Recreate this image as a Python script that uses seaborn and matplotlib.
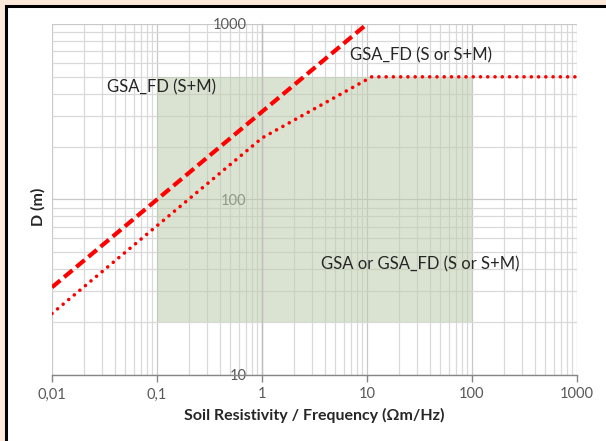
import matplotlib
matplotlib.use("Agg")
import matplotlib.pyplot as plt
import matplotlib.patches as mpatches
from matplotlib.lines import Line2D
from matplotlib.ticker import LogLocator, FixedLocator, NullFormatter
import seaborn as sns
import pandas as pd

# Curve data: D (m) versus soil resistivity / frequency
sm_x = [0.01, 10]
sm_d = [31.6, 1000]
s_or_sm_x = [0.01, 1, 11.1, 1000]
s_or_sm_d = [22.4, 224, 500, 500]

# Shaded region where either method applies
region_x = [0.1, 100]
region_d = [20, 500]

x_ticks = [0.01, 0.1, 1, 10, 100, 1000]
x_tick_labels = ["0,01", "0,1", "1", "10", "100", "1000"]
y_ticks = [10, 100, 1000]
y_tick_labels = ["10", "100", "1000"]

sns.set_style("white")
plt.rcParams["font.family"] = ["Lato", "DejaVu Sans"]

fig = plt.figure(figsize=(6.06, 4.41), dpi=100)
fig.patch.set_facecolor("#fde9d9")
fig.patch.set_edgecolor("none")
fig.patch.set_linewidth(0)
# white chart area with a black frame on its left and top edges
fig.patches.append(mpatches.Rectangle((0.0099, -0.01), 1.1, 0.9964, transform=fig.transFigure,
                                      facecolor="white", edgecolor="none", zorder=-10))
fig.lines.append(Line2D([0.0099, 0.0099, 1.1], [-0.01, 0.9864, 0.9864],
                        transform=fig.transFigure, color="black", linewidth=2.2,
                        solid_joinstyle="miter", zorder=-9))

ax = fig.add_axes([0.0858, 0.1497, 0.8663, 0.7959])
ax.set_facecolor("none")
ax.set_xscale("log")
ax.set_yscale("log")
ax.set_xlim(0.01, 1000)
ax.set_ylim(10, 1000)

# grid
ax.xaxis.set_minor_locator(LogLocator(base=10, subs=range(2, 10)))
ax.yaxis.set_minor_locator(LogLocator(base=10, subs=range(2, 10)))
ax.xaxis.set_minor_formatter(NullFormatter())
ax.yaxis.set_minor_formatter(NullFormatter())
ax.grid(which="major", color="#c8c8c8", linewidth=0.9, zorder=1)
ax.grid(which="minor", color="#d9d9d9", linewidth=0.9, zorder=1)
ax.set_axisbelow(True)

ax.add_patch(mpatches.Rectangle((region_x[0], region_d[0]), region_x[1] - region_x[0],
                                region_d[1] - region_d[0], facecolor="#bccdac",
                                alpha=0.55, edgecolor="none", zorder=2))

df_sm = pd.DataFrame({"x": sm_x, "D": sm_d})
df_s = pd.DataFrame({"x": s_or_sm_x, "D": s_or_sm_d})
sns.lineplot(data=df_sm, x="x", y="D", ax=ax, color="#ff0000", linewidth=3.0,
             linestyle=(0, (2.6, 1.2)), zorder=4)
sns.lineplot(data=df_s, x="x", y="D", ax=ax, color="#ff0000", linewidth=2.6,
             linestyle=(0, (0.01, 2.0)), zorder=4)
ax.lines[0].set_dash_capstyle("butt")
ax.lines[1].set_dash_capstyle("round")

# axes: y-axis crosses at x = 1
for s in ["top", "right"]:
    ax.spines[s].set_visible(False)
ax.spines["left"].set_position(("data", 1))
ax.spines["left"].set_color("#bfbfbf")
ax.spines["left"].set_linewidth(1.0)
ax.spines["bottom"].set_color("#868686")
ax.spines["bottom"].set_linewidth(1.0)

ax.xaxis.set_major_locator(FixedLocator(x_ticks))
ax.set_xticklabels(x_tick_labels)
ax.yaxis.set_major_locator(FixedLocator(y_ticks))
ax.set_yticklabels(y_tick_labels)
ax.tick_params(axis="x", which="major", length=5, width=1, color="#868686",
               labelsize=10.5, labelcolor="#595959", pad=4, direction="out", bottom=True)
ax.tick_params(axis="y", which="major", length=0, labelsize=10.5,
               labelcolor="#595959", pad=11)
ax.tick_params(which="minor", length=0)

ax.set_xlabel("Soil Resistivity / Frequency (\u03a9m/Hz)", fontsize=11.5,
              fontweight="bold", color="#262626", labelpad=5)
ax.set_ylabel("")
fig.text(0.063, 0.53, "D (m)", rotation=90, fontsize=11.5, fontweight="bold",
         color="#262626", ha="center", va="center")

ax.text(0.0334, 438, "GSA_FD (S+M)", fontsize=12, color="#262626", va="center", zorder=5)
ax.text(6.9, 666, "GSA_FD (S or S+M)", fontsize=12, color="#262626", va="center", zorder=5)
ax.text(3.65, 42.9, "GSA or GSA_FD (S or S+M)", fontsize=12, color="#262626",
        va="center", zorder=5)

fig.savefig("out.png", dpi=100, facecolor=fig.get_facecolor(), edgecolor="none")
